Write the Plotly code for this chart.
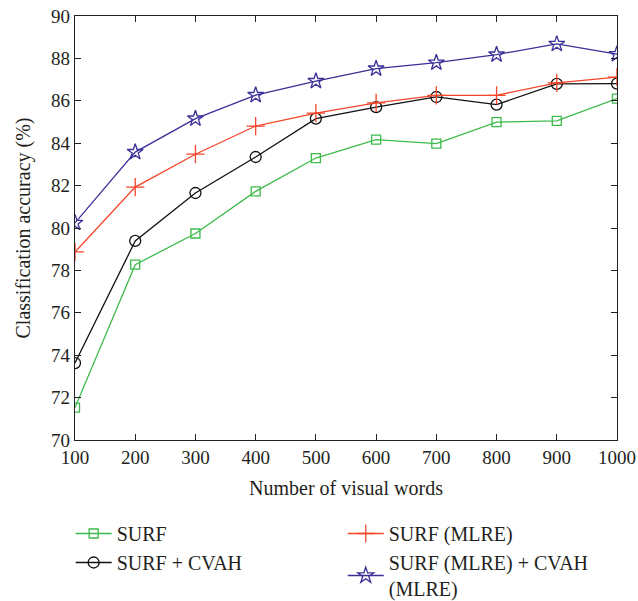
import plotly.graph_objects as go

x_words = [100, 200, 300, 400, 500, 600, 700, 800, 900, 1000]
surf = [71.53, 78.27, 79.74, 81.73, 83.30, 84.17, 83.98, 84.99, 85.05, 86.1]
surf_mlre = [78.87, 81.93, 83.48, 84.81, 85.42, 85.9, 86.26, 86.26, 86.85, 87.12]
surf_cvah = [73.63, 79.39, 81.65, 83.35, 85.16, 85.7, 86.18, 85.82, 86.8, 86.81]
surf_mlre_cvah = [80.24, 83.58, 85.16, 86.27, 86.93, 87.52, 87.8, 88.18, 88.68, 88.2]

series = [
    ("SURF", surf, "#3dba4a", "square-open", 9, "legend"),
    ("SURF + CVAH", surf_cvah, "#111111", "circle-open", 11, "legend"),
    ("SURF (MLRE)", surf_mlre, "#f5452a", "cross-thin-open", 13, "legend2"),
    ("SURF (MLRE) + CVAH<br>(MLRE)", surf_mlre_cvah, "#3b2f98", "star-open", 12, "legend2"),
]

fig = go.Figure()
for name, vals, color, sym, sz, lg in series:
    fig.add_trace(go.Scatter(
        x=x_words, y=vals, name=name, mode="lines+markers", legend=lg,
        line=dict(color=color, width=1.3),
        marker=dict(symbol=sym, size=sz, color=color, line=dict(color=color, width=1.3)),
    ))

font = dict(family="Liberation Serif, Times New Roman, serif", color="#231f20")
axis_common = dict(
    showline=True, linecolor="#231f20", linewidth=1.2, mirror="ticks",
    ticks="inside", ticklen=6, tickcolor="#231f20", tickwidth=1,
    showgrid=False, zeroline=False, automargin=False,
    tickfont=dict(size=19, **font),
)
fig.update_xaxes(range=[100, 1000], tickmode="array", tickvals=x_words,
                 title=dict(text="Number of visual words", font=dict(size=20, **font), standoff=14),
                 **axis_common)
fig.update_yaxes(range=[70, 90], tickmode="array", tickvals=list(range(70, 91, 2)),
                 title=dict(text="Classification accuracy (%)", font=dict(size=20, **font), standoff=15),
                 **axis_common)

leg_common = dict(orientation="v", yanchor="top", xanchor="left", yref="container",
                  font=dict(size=20, **font), bgcolor="rgba(0,0,0,0)", tracegroupgap=0,
                  itemwidth=36)
fig.update_layout(
    width=638, height=601,
    margin=dict(l=75, r=21, t=16, b=161),
    paper_bgcolor="white", plot_bgcolor="white",
    font=dict(size=19, **font),
    legend=dict(x=-0.008, y=1 - 514 / 601, **leg_common),
    legend2=dict(x=0.494, y=1 - 514 / 601, **leg_common),
    showlegend=True,
)
fig.write_html("out.html", config={"displayModeBar": False},
               post_script="document.body.style.margin='0';document.body.style.overflow='hidden';")
